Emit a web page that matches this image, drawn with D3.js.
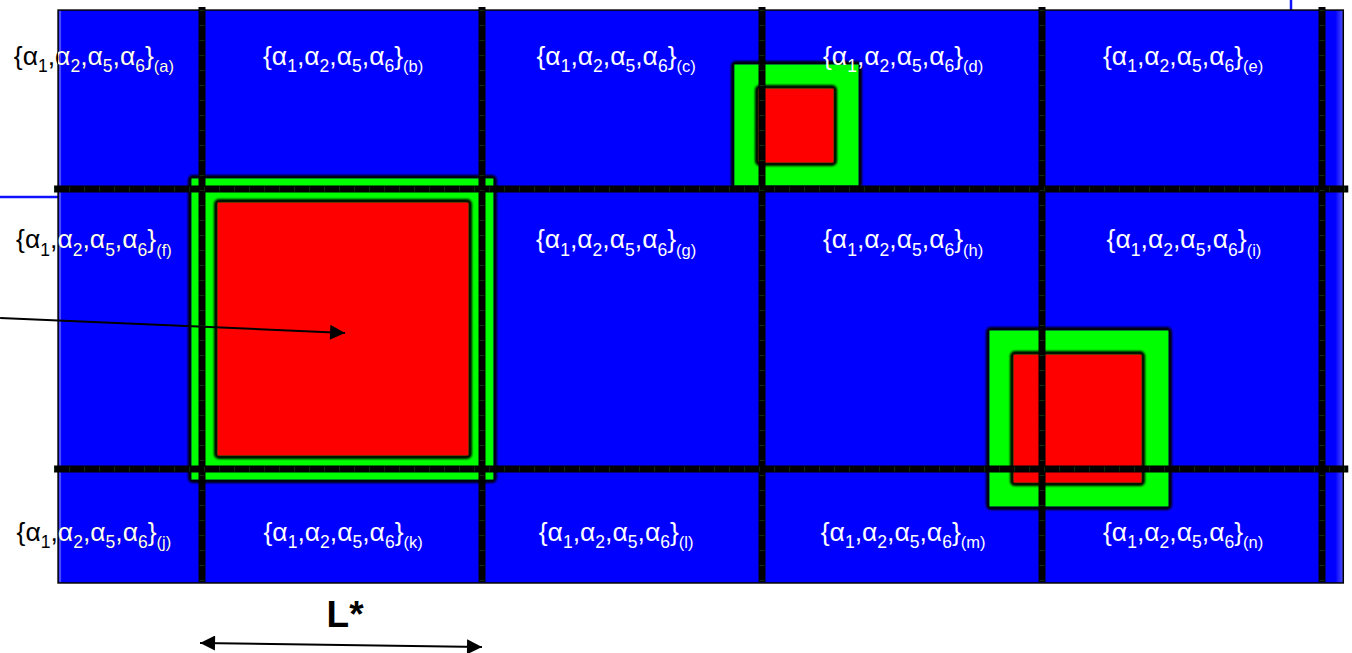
<!DOCTYPE html>
<html><head><meta charset="utf-8">
<script src="https://cdn.jsdelivr.net/npm/d3@7/dist/d3.min.js"></script>
<style>html,body{margin:0;padding:0;background:#fff;overflow:hidden}</style>
</head><body>
<svg id="c" width="1352" height="653"></svg>
<script>
// ---- data (in units of the cell size L*) ----
const gridCols = [0, 1, 2, 3, 4];          // vertical grid lines
const gridRows = [0, 1];                    // horizontal grid lines
const domainBox = {x0: -0.514, x1: 4.076, y0: -0.639, y1: 1.407};
const cellLetters = ["a","b","c","d","e","f","g","h","i","j","k","l","m","n"];
const labelX = [-0.386, 0.504, 1.479, 2.504, 3.504,
                -0.386, 1.479, 2.504, 3.507,
                -0.386, 0.504, 1.479, 2.504, 3.504];
const labelY = [-0.443, -0.443, -0.443, -0.443, -0.443,
                 0.211, 0.211, 0.211, 0.211,
                 1.257, 1.257, 1.257, 1.257, 1.257];
const subscripts = ["1","2","5","6"];
const greenSq = [[-0.043, -0.043, 1.046, 1.043], [1.896, -0.45, 2.35, -0.007], [2.807, 0.5, 3.457, 1.139]];
const redSq   = [[0.05, 0.043, 0.957, 0.957], [1.982, -0.364, 2.261, -0.089], [2.893, 0.586, 3.361, 1.054]];
const pointerArrow = [[-0.721, 0.461], [0.511, 0.514]];
const lArrow = [[-0.007, 1.621], [1.0, 1.636]];
const lLabel = "L*";

const x = d3.scaleLinear().domain([0, 1]).range([202, 482]);
const y = d3.scaleLinear().domain([0, 1]).range([189, 469]);

const svg = d3.select("#c");
const defs = svg.append("defs");
const f = defs.append("filter").attr("id","blur").attr("x","-10%").attr("y","-10%").attr("width","120%").attr("height","120%");
f.append("feGaussianBlur").attr("stdDeviation", 1.3);
const g1 = defs.append("linearGradient").attr("id","edge");
g1.append("stop").attr("offset","0").attr("stop-color","#0000ff");
g1.append("stop").attr("offset","1").attr("stop-color","#5050ff");
defs.append("clipPath").attr("id","inside").append("rect")
  .attr("x", x(domainBox.x0)).attr("y", y(domainBox.y0))
  .attr("width", x(domainBox.x1) - x(domainBox.x0)).attr("height", y(domainBox.y1) - y(domainBox.y0));
const mk = defs.append("marker").attr("id","ah").attr("viewBox","0 0 10 10").attr("refX",10).attr("refY",5)
  .attr("markerUnits","userSpaceOnUse").attr("markerWidth",16).attr("markerHeight",15).attr("orient","auto-start-reverse");
mk.append("path").attr("d","M0,0L10,5L0,10Z").attr("fill","#000");

// outside blue guide lines
svg.append("line").attr("x1",0).attr("x2",x(domainBox.x0)).attr("y1",197).attr("y2",197)
  .attr("stroke","#1010ff").attr("stroke-width",2.5);
svg.append("line").attr("x1",1291).attr("x2",1291).attr("y1",0).attr("y2",y(domainBox.y0))
  .attr("stroke","#1010ff").attr("stroke-width",2.5);

// background field
svg.append("rect").attr("x", x(domainBox.x0)).attr("y", y(domainBox.y0))
  .attr("width", x(domainBox.x1) - x(domainBox.x0)).attr("height", y(domainBox.y1) - y(domainBox.y0))
  .attr("fill","#0000ff");
svg.append("rect").attr("x", x(domainBox.x1) - 8).attr("y", y(domainBox.y0))
  .attr("width", 8).attr("height", y(domainBox.y1) - y(domainBox.y0)).attr("fill","url(#edge)");
svg.append("rect").attr("x", x(domainBox.x0)+1).attr("y", y(domainBox.y0))
  .attr("width", 2).attr("height", y(domainBox.y1) - y(domainBox.y0)).attr("fill","#4a4aff");

// squares
function sq(data, fill) {
  const g = svg.append("g");
  g.selectAll("rect.s").data(data).join("rect")
    .attr("x", d => x(d[0])).attr("y", d => y(d[1]))
    .attr("width", d => x(d[2]) - x(d[0])).attr("height", d => y(d[3]) - y(d[1]))
    .attr("rx", 3)
    .attr("fill", "none").attr("stroke", "#000").attr("stroke-width", 4).attr("filter","url(#blur)");
  g.selectAll("rect.f").data(data).join("rect")
    .attr("x", d => x(d[0]) + 1.5).attr("y", d => y(d[1]) + 1.5)
    .attr("width", d => x(d[2]) - x(d[0]) - 3).attr("height", d => y(d[3]) - y(d[1]) - 3)
    .attr("fill", fill);
}
sq(greenSq, "#00ff00");
sq(redSq, "#ff0000");

// field border
svg.append("rect").attr("x", x(domainBox.x0)).attr("y", y(domainBox.y0))
  .attr("width", x(domainBox.x1) - x(domainBox.x0)).attr("height", y(domainBox.y1) - y(domainBox.y0))
  .attr("fill","none").attr("stroke","#000").attr("stroke-width",1.5);

// grid lines
svg.append("g").selectAll("line").data(gridCols).join("line")
  .attr("x1", d => x(d)).attr("x2", d => x(d))
  .attr("y1", y(domainBox.y0) - 3).attr("y2", y(domainBox.y1) - 1)
  .attr("stroke","#000").attr("stroke-width",7);
svg.append("g").selectAll("line").data(gridRows).join("line")
  .attr("y1", d => y(d)).attr("y2", d => y(d))
  .attr("x1", x(domainBox.x0) - 4).attr("x2", x(domainBox.x1) + 5)
  .attr("stroke","#000").attr("stroke-width",7);
// faint segment marks in grid lines
svg.append("g").selectAll("line").data(gridRows).join("line")
  .attr("y1", d => y(d)).attr("y2", d => y(d))
  .attr("x1", x(domainBox.x0) - 4).attr("x2", x(domainBox.x1) + 5)
  .attr("stroke","#0c300c").attr("stroke-width",5).attr("stroke-dasharray","1 14");
svg.append("g").selectAll("line").data(gridCols).join("line")
  .attr("x1", d => x(d)).attr("x2", d => x(d))
  .attr("y1", y(domainBox.y0)).attr("y2", y(domainBox.y1) - 1)
  .attr("stroke","#0c300c").attr("stroke-width",5).attr("stroke-dasharray","1 14");

// labels
function label(sel, letter) {
  sel.append("tspan").text("{α");
  subscripts.forEach((s, i) => {
    sel.append("tspan").attr("dy", 7.5).attr("font-size", 17.5).text(s);
    sel.append("tspan").attr("dy", -7.5).text(i < 3 ? ",α" : "}");
  });
  sel.append("tspan").attr("dy", 7.5).attr("font-size", 16.5).text("(" + letter + ")");
}
const lab = cellLetters.map((c, i) => ({c, x: labelX[i], y: labelY[i]}));
["#000", "#fff"].forEach((col, k) => {
  const g = svg.append("g").attr("font-family","Liberation Sans, Arial, sans-serif").attr("font-size",26.5)
    .attr("fill", col).attr("text-anchor","middle");
  if (k === 1) g.attr("clip-path","url(#inside)");
  g.selectAll("text").data(k === 0 ? lab.filter(d => d.x < -0.3) : lab).join("text")
    .attr("x", d => x(d.x)).attr("y", d => y(d.y))
    .each(function(d){ label(d3.select(this), d.c); });
});

// pointer arrow
svg.append("line")
  .attr("x1", x(pointerArrow[0][0])).attr("y1", y(pointerArrow[0][1]))
  .attr("x2", x(pointerArrow[1][0])).attr("y2", y(pointerArrow[1][1]))
  .attr("stroke","#000").attr("stroke-width",2).attr("marker-end","url(#ah)");

// L* dimension arrow
svg.append("line")
  .attr("x1", x(lArrow[0][0])).attr("y1", y(lArrow[0][1]))
  .attr("x2", x(lArrow[1][0])).attr("y2", y(lArrow[1][1]))
  .attr("stroke","#000").attr("stroke-width",2)
  .attr("marker-start","url(#ah)").attr("marker-end","url(#ah)");
svg.append("text").attr("x", x(0.511)).attr("y", 627).attr("text-anchor","middle")
  .attr("font-family","Liberation Sans, Arial, sans-serif").attr("font-weight","bold").attr("font-size",37)
  .text(lLabel);
</script>
</body></html>
